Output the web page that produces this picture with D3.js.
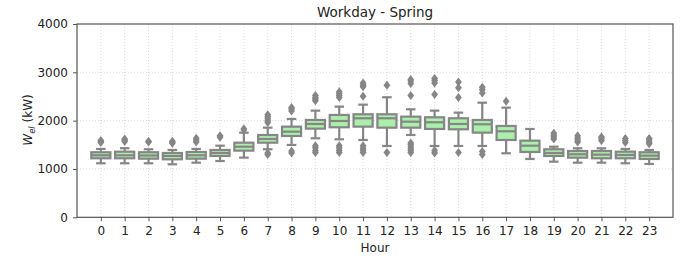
<!DOCTYPE html>
<head>
  <meta charset="utf-8">
  <script src="https://d3js.org/d3.v7.min.js"></script>
  <style>
    body { margin: 0; background: #fff; }
    svg { display: block; font-family: "DejaVu Sans", sans-serif; }
  </style>
</head>

<body>
  <svg width="684" height="258"></svg>
  <script>
    // data (kW)
    var hours = [0, 1, 2, 3, 4, 5, 6, 7, 8, 9, 10, 11, 12, 13, 14, 15, 16, 17, 18, 19, 20, 21, 22, 23];
    var whiskerLow = [1118, 1118, 1118, 1097, 1130, 1165, 1235, 1408, 1497, 1635, 1614, 1600, 1476, 1704, 1476, 1476, 1476, 1325, 1207, 1151, 1130, 1130, 1118, 1104];
    var q1 = [1221, 1221, 1213, 1200, 1213, 1269, 1379, 1544, 1683, 1835, 1863, 1876, 1855, 1855, 1828, 1821, 1752, 1600, 1352, 1269, 1234, 1221, 1221, 1207];
    var medians = [1283, 1283, 1279, 1269, 1283, 1331, 1461, 1621, 1772, 1931, 1993, 2049, 2049, 1979, 1966, 1931, 1925, 1780, 1482, 1331, 1304, 1296, 1290, 1276];
    var q3 = [1346, 1358, 1346, 1331, 1352, 1393, 1544, 1703, 1876, 2014, 2118, 2132, 2132, 2083, 2070, 2049, 2014, 1890, 1586, 1408, 1372, 1372, 1358, 1346];
    var whiskerHigh = [1414, 1430, 1408, 1393, 1414, 1482, 1751, 1855, 2035, 2207, 2290, 2331, 2484, 2235, 2207, 2166, 2372, 2269, 1828, 1461, 1428, 1428, 1414, 1393];
    var fliersHigh = [
      [1550, 1570, 1590], [1570, 1600, 1620], [1560, 1575], [1530, 1560, 1575],
      [1560, 1600, 1635], [1655, 1685], [1810, 1830], [1960, 2000, 2040, 2080, 2120],
      [2200, 2240, 2270], [2410, 2450, 2480, 2520], [2480, 2520, 2560, 2600], [2505, 2700, 2740, 2780],
      [2730], [2520, 2770, 2820, 2850], [2540, 2780, 2830, 2870], [2480, 2680, 2800],
      [2570, 2640, 2690], [2400], [], [1620, 1660, 1700, 1740],
      [1560, 1600, 1640, 1690], [1590, 1630, 1660], [1550, 1590, 1630], [1520, 1560, 1600, 1630]
    ];
    var fliersLow = [
      [], [], [], [], [], [], [], [1300, 1330],
      [1330, 1370], [1340, 1380, 1440, 1480], [1340, 1390, 1440, 1480], [1340, 1390, 1430, 1480],
      [1340], [1340, 1380, 1420, 1460, 1500, 1540], [1330, 1380], [1340],
      [1300, 1360], [], [], [], [], [], [], []
    ];
    var yTicks = [0, 1000, 2000, 3000, 4000];

    // layout
    var plot = { left: 77, right: 673, top: 24, bottom: 217.3 };
    var boxColor = "#aaf0aa";
    var lineColor = "#868686";
    var lw = 2.2;

    var svg = d3.select("svg");

    var x = d3.scaleLinear().domain([-1, 24]).range([plot.left, plot.right]);
    var y = d3.scaleLinear().domain([0, 4000]).range([plot.bottom, plot.top]);
    var boxW = x(0.4) - x(0);

    // grid
    svg.append("g").selectAll("line.gx")
      .data(hours).enter().append("line")
      .attr("x1", function(d) { return x(d); }).attr("x2", function(d) { return x(d); })
      .attr("y1", plot.top).attr("y2", plot.bottom)
      .attr("stroke", "#cfcfcf").attr("stroke-width", 0.8).attr("stroke-dasharray", "1,2");
    svg.append("g").selectAll("line.gy")
      .data(yTicks.slice(1, 4)).enter().append("line")
      .attr("x1", plot.left).attr("x2", plot.right)
      .attr("y1", function(d) { return y(d); }).attr("y2", function(d) { return y(d); })
      .attr("stroke", "#cfcfcf").attr("stroke-width", 0.8).attr("stroke-dasharray", "1,2");

    // boxes
    var g = svg.append("g").selectAll("g.box")
      .data(hours).enter().append("g");

    // whiskers
    g.append("line")
      .attr("x1", function(d) { return x(d); }).attr("x2", function(d) { return x(d); })
      .attr("y1", function(d, i) { return y(q3[i]); }).attr("y2", function(d, i) { return y(whiskerHigh[i]); })
      .attr("stroke", lineColor).attr("stroke-width", lw);
    g.append("line")
      .attr("x1", function(d) { return x(d); }).attr("x2", function(d) { return x(d); })
      .attr("y1", function(d, i) { return y(q1[i]); }).attr("y2", function(d, i) { return y(whiskerLow[i]); })
      .attr("stroke", lineColor).attr("stroke-width", lw);
    // caps
    g.append("line")
      .attr("x1", function(d) { return x(d) - boxW / 2; }).attr("x2", function(d) { return x(d) + boxW / 2; })
      .attr("y1", function(d, i) { return y(whiskerHigh[i]); }).attr("y2", function(d, i) { return y(whiskerHigh[i]); })
      .attr("stroke", lineColor).attr("stroke-width", lw);
    g.append("line")
      .attr("x1", function(d) { return x(d) - boxW / 2; }).attr("x2", function(d) { return x(d) + boxW / 2; })
      .attr("y1", function(d, i) { return y(whiskerLow[i]); }).attr("y2", function(d, i) { return y(whiskerLow[i]); })
      .attr("stroke", lineColor).attr("stroke-width", lw);
    // box
    g.append("rect")
      .attr("x", function(d) { return x(d) - boxW; })
      .attr("width", boxW * 2)
      .attr("y", function(d, i) { return y(q3[i]); })
      .attr("height", function(d, i) { return y(q1[i]) - y(q3[i]); })
      .attr("fill", boxColor).attr("stroke", lineColor).attr("stroke-width", lw);
    // median
    g.append("line")
      .attr("x1", function(d) { return x(d) - boxW; }).attr("x2", function(d) { return x(d) + boxW; })
      .attr("y1", function(d, i) { return y(medians[i]); }).attr("y2", function(d, i) { return y(medians[i]); })
      .attr("stroke", lineColor).attr("stroke-width", lw);

    // fliers (thin diamonds)
    var fliers = [];
    hours.forEach(function(h, i) {
      fliersHigh[i].forEach(function(v) { fliers.push([h, v]); });
      fliersLow[i].forEach(function(v) { fliers.push([h, v]); });
    });
    svg.append("g").selectAll("path")
      .data(fliers).enter().append("path")
      .attr("d", function(d) {
        var cx = x(d[0]), cy = y(d[1]);
        return "M" + cx + "," + (cy - 4.5) + "L" + (cx + 3.4) + "," + cy + "L" + cx + "," + (cy + 4.5) + "L" + (cx - 3.4) + "," + cy + "Z";
      })
      .attr("fill", lineColor);

    // frame
    svg.append("rect")
      .attr("x", plot.left).attr("y", plot.top)
      .attr("width", plot.right - plot.left).attr("height", plot.bottom - plot.top)
      .attr("fill", "none").attr("stroke", "#555").attr("stroke-width", 1.2);

    // axes
    var xAxis = d3.axisBottom(x).tickValues(hours).tickFormat(d3.format("d")).tickSize(4).tickPadding(5);
    var yAxis = d3.axisLeft(y).tickValues(yTicks).tickFormat(d3.format("d")).tickSize(4).tickPadding(5);
    var gx = svg.append("g").attr("transform", "translate(0," + plot.bottom + ")").call(xAxis);
    var gy = svg.append("g").attr("transform", "translate(" + plot.left + ",0)").call(yAxis);
    [gx, gy].forEach(function(a) {
      a.select(".domain").remove();
      a.selectAll(".tick line").attr("stroke", "#555");
      a.selectAll(".tick text").attr("fill", "#222").style("font-size", "12px").style("font-family", "DejaVu Sans");
    });

    // title and labels
    svg.append("text")
      .attr("x", (plot.left + plot.right) / 2).attr("y", 16.5)
      .attr("text-anchor", "middle").attr("fill", "#222")
      .style("font-size", "13.5px")
      .text("Workday - Spring");
    svg.append("text")
      .attr("x", (plot.left + plot.right) / 2).attr("y", 251.5)
      .attr("text-anchor", "middle").attr("fill", "#222")
      .style("font-size", "12px")
      .text("Hour");
    var yl = svg.append("text")
      .attr("transform", "translate(32,120) rotate(-90)")
      .attr("text-anchor", "middle").attr("fill", "#222")
      .style("font-size", "12px");
    yl.append("tspan").style("font-style", "italic").text("W");
    yl.append("tspan").style("font-style", "italic").style("font-size", "8.5px").attr("dy", 2.5).text("el");
    yl.append("tspan").attr("dy", -2.5).text(" (kW)");
  </script>
</body>
